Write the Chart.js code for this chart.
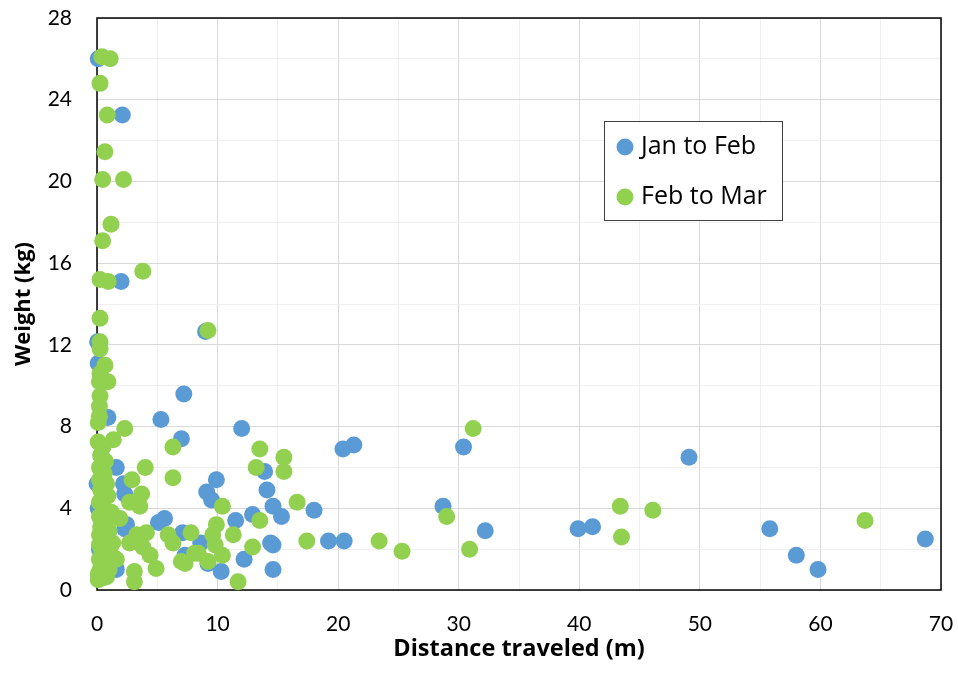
<!DOCTYPE html>
<html>
<head>
<meta charset="utf-8">
<script src="https://cdn.jsdelivr.net/npm/chart.js@4.4.1/dist/chart.umd.min.js"></script>
<style>
  html, body { margin: 0; padding: 0; background: #fff; }
  #wrap { width: 958px; height: 673px; }
</style>
</head>
<body>
<div id="wrap"><canvas id="weightChart" width="958" height="673"></canvas></div>
<script>
const seriesNames = ['Jan to Feb', 'Feb to Mar'];
const seriesColors = ['#5B9BD5', '#92D050'];

// [distance (m), weight (kg)]
const janToFeb = [
  [0.1, 26.0], [2.1, 23.25], [2.0, 15.1], [9.0, 12.65], [0.05, 12.15], [0.1, 11.1],
  [7.2, 9.6], [0.9, 8.45], [5.3, 8.35], [7.0, 7.4], [12.0, 7.9], [20.4, 6.9],
  [21.3, 7.1], [30.4, 7.0], [49.1, 6.5], [13.9, 5.8], [14.1, 4.9], [9.9, 5.4],
  [9.1, 4.8], [9.5, 4.4], [1.6, 6.0], [2.2, 5.2], [2.3, 4.7], [14.6, 4.1],
  [15.3, 3.6], [18.0, 3.9], [28.7, 4.1], [32.2, 2.9], [39.9, 3.0], [41.1, 3.1],
  [55.8, 3.0], [58.0, 1.7], [59.8, 1.0], [68.7, 2.5], [11.5, 3.4], [12.9, 3.7],
  [14.4, 2.3], [14.6, 2.2], [19.2, 2.4], [20.5, 2.4], [10.3, 0.9], [14.6, 1.0],
  [12.2, 1.5], [7.3, 1.7], [7.1, 2.8], [8.6, 2.3], [9.2, 1.3], [5.6, 3.5],
  [5.1, 3.3], [2.45, 3.2], [2.3, 3.0], [1.6, 1.0], [0.0, 5.2], [0.1, 4.0],
  [0.2, 2.0], [1.5, 1.2], [0.4, 6.5]
];

const febToMar = [
  [0.4, 26.1], [1.1, 26.0], [0.25, 24.8], [0.85, 23.25], [0.66, 21.45], [0.47, 20.1],
  [2.2, 20.1], [1.16, 17.9], [0.47, 17.1], [3.8, 15.6], [0.25, 15.2], [0.93, 15.1],
  [0.25, 13.3], [9.2, 12.7], [0.25, 12.15], [0.25, 11.8], [0.66, 11.0], [0.25, 10.6],
  [0.9, 10.2], [0.2, 10.2], [0.25, 9.5], [0.2, 9.0], [0.2, 8.5], [0.1, 8.2],
  [2.3, 7.9], [6.3, 7.0], [1.35, 7.35], [0.1, 7.25], [0.5, 7.0], [0.3, 6.6],
  [0.7, 6.3], [0.2, 6.0], [0.6, 5.7], [0.2, 5.4], [0.8, 5.2], [0.3, 4.9],
  [0.9, 4.6], [0.2, 4.3], [0.6, 4.0], [1.2, 3.8], [0.2, 3.6], [0.8, 3.4],
  [0.3, 3.1], [1.0, 2.9], [0.2, 2.7], [0.6, 2.5], [1.3, 2.3], [0.2, 2.2],
  [0.8, 2.0], [0.4, 1.8], [1.2, 1.7], [0.2, 1.5], [0.7, 1.3], [0.3, 1.1],
  [1.0, 1.0], [0.1, 0.8], [0.8, 0.65], [0.1, 0.5], [0.5, 0.6],
  [4.0, 6.0], [6.3, 5.5], [2.9, 5.4], [3.7, 4.7], [3.55, 4.1], [2.7, 4.3],
  [1.9, 3.5], [4.1, 2.8], [3.3, 2.7], [5.9, 2.7], [6.3, 2.3], [7.8, 2.8],
  [2.7, 2.3], [3.8, 2.1], [4.4, 1.7], [7.0, 1.4], [8.1, 1.8], [4.9, 1.05],
  [3.1, 0.9], [3.1, 0.4], [1.6, 1.5], [13.5, 6.9], [15.5, 6.5], [13.2, 6.0],
  [15.5, 5.8], [10.4, 4.1], [16.6, 4.3], [13.5, 3.4], [9.9, 3.2], [9.6, 2.7],
  [11.3, 2.7], [9.8, 2.2], [12.9, 2.1], [17.4, 2.4], [23.4, 2.4], [8.4, 1.8],
  [9.2, 1.4], [10.4, 1.7], [7.3, 1.3], [11.7, 0.4], [31.2, 7.9], [29.0, 3.6],
  [30.9, 2.0], [25.3, 1.9], [43.4, 4.1], [43.5, 2.6], [46.1, 3.9], [63.7, 3.4]
];

const xTicks = [0, 10, 20, 30, 40, 50, 60, 70];
const yTicks = [0, 4, 8, 12, 16, 20, 24, 28];

const toPoints = arr => arr.map(([x, y]) => ({ x, y }));

// black frame round the plot area, under the points
const framePlugin = {
  id: 'frame',
  beforeDatasetsDraw(chart) {
    const { ctx, chartArea: a } = chart;
    ctx.save();
    ctx.strokeStyle = '#000';
    ctx.lineWidth = 1.5;
    ctx.strokeRect(a.left, a.top, a.right - a.left, a.bottom - a.top);
    ctx.restore();
  }
};

// boxed legend inside the plot, like the original
const boxLegend = {
  id: 'boxLegend',
  afterDraw(chart) {
    const { ctx, chartArea: a } = chart;
    const bx = a.left + 507, by = a.top + 103, bw = 178, bh = 99;
    ctx.save();
    ctx.fillStyle = '#fff';
    ctx.fillRect(bx, by, bw, bh);
    ctx.strokeStyle = '#404040';
    ctx.lineWidth = 1;
    ctx.strokeRect(bx + 0.5, by + 0.5, bw, bh);
    ctx.font = '25px "Open Sans"';
    ctx.textBaseline = 'middle';
    seriesNames.forEach((name, i) => {
      const cy = by + 26 + i * 50;
      ctx.beginPath();
      ctx.arc(bx + 21, cy, 8.5, 0, Math.PI * 2);
      ctx.fillStyle = seriesColors[i];
      ctx.fill();
      ctx.fillStyle = '#000';
      ctx.fillText(name, bx + 37, cy);
    });
    ctx.restore();
  }
};

const ctx = document.getElementById('weightChart').getContext('2d');
new Chart(ctx, {
  type: 'scatter',
  data: {
    datasets: [
      {
        label: seriesNames[0],
        data: toPoints(janToFeb),
        backgroundColor: seriesColors[0],
        borderWidth: 0,
        pointRadius: 8.5,
        clip: false,
        order: 1,
      },
      {
        label: seriesNames[1],
        data: toPoints(febToMar),
        backgroundColor: seriesColors[1],
        borderWidth: 0,
        pointRadius: 8.5,
        clip: false,
        order: 0,
      },
    ],
  },
  options: {
    responsive: false,
    animation: false,
    layout: { padding: 0 },
    plugins: { legend: { display: false }, tooltip: { enabled: false } },
    scales: {
      x: {
        min: xTicks[0],
        max: xTicks[xTicks.length - 1],
        afterFit(scale) {
          scale.height = 83;
          scale.paddingLeft = 0;
          scale.paddingRight = 17;
        },
        afterBuildTicks(scale) {
          const t = [];
          for (let v = xTicks[0]; v <= xTicks[xTicks.length - 1]; v += 5) t.push({ value: v });
          scale.ticks = t;
        },
        ticks: {
          autoSkip: false,
          maxRotation: 0,
          padding: 22,
          color: '#000',
          font: { family: 'Lato', size: 21 },
          callback: v => (xTicks.includes(v) ? String(v) : ''),
        },
        grid: {
          drawTicks: false,
          lineWidth: 1,
          color: c => (xTicks.includes(c.tick.value) ? '#D9D9D9' : '#F0F0F0'),
        },
        border: { display: false },
        title: {
          display: true,
          text: 'Distance traveled (m)',
          color: '#000',
          font: { family: 'Open Sans', size: 23.5, weight: 'bold' },
          padding: { top: 0, bottom: 10 },
        },
      },
      y: {
        min: yTicks[0],
        max: yTicks[yTicks.length - 1],
        afterFit(scale) {
          scale.width = 97;
          scale.paddingTop = 18;
          scale.paddingBottom = 0;
        },
        afterBuildTicks(scale) {
          const t = [];
          for (let v = yTicks[0]; v <= yTicks[yTicks.length - 1]; v += 2) t.push({ value: v });
          scale.ticks = t;
        },
        ticks: {
          autoSkip: false,
          padding: 25,
          color: '#000',
          font: { family: 'Lato', size: 21 },
          callback: v => (yTicks.includes(v) ? String(v) : ''),
        },
        grid: {
          drawTicks: false,
          lineWidth: 1,
          color: c => (yTicks.includes(c.tick.value) ? '#D9D9D9' : '#F0F0F0'),
        },
        border: { display: false },
        title: {
          display: true,
          text: 'Weight (kg)',
          color: '#000',
          font: { family: 'Open Sans', size: 22, weight: 'bold' },
          padding: { top: 11, bottom: 0 },
        },
      },
    },
  },
  plugins: [framePlugin, boxLegend],
});
</script>
</body>
</html>
